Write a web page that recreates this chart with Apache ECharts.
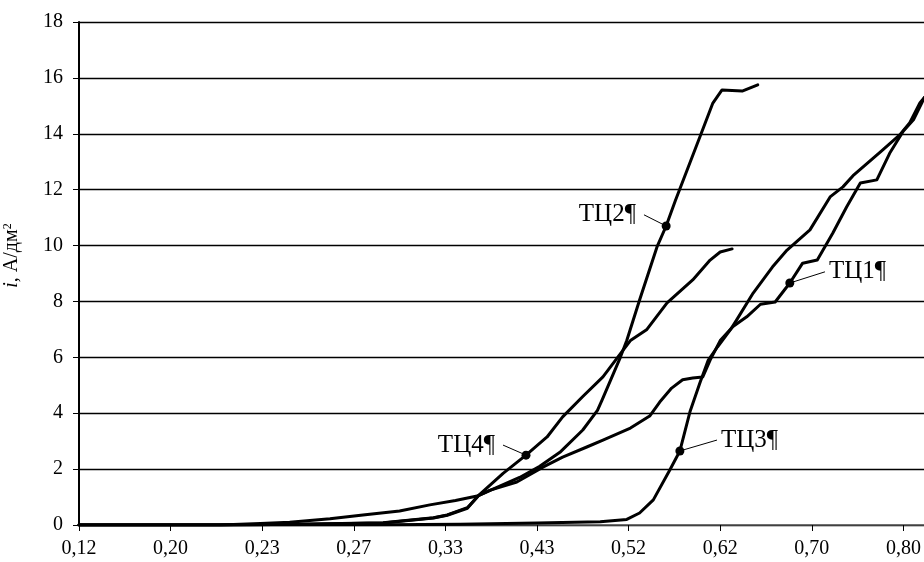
<!DOCTYPE html>
<html>
<head>
<meta charset="utf-8">
<script src="https://cdn.jsdelivr.net/npm/echarts@6/dist/echarts.min.js"></script>
<style>html,body{margin:0;padding:0;background:#fff;}#c{width:924px;height:562px;}</style>
</head>
<body>
<div id="c"></div>
<script>
// x positions are expressed in tick-index units of the (evenly spaced) category ticks below
const xTickLabels = ['0,12','0,20','0,23','0,27','0,33','0,43','0,52','0,62','0,70','0,80'];
const yTicks = [0,2,4,6,8,10,12,14,16,18];

const tc1 = [[0,0],[1.54,0],[2.41,0.03],[3.32,0.07],[3.87,0.25],[4.02,0.35],[4.24,0.6],[4.36,1.05],[4.49,1.25],[4.78,1.54],[5.07,2.08],[5.28,2.43],[5.55,2.8],[5.72,3.04],[6.02,3.47],[6.23,3.9],[6.34,4.4],[6.47,4.9],[6.59,5.2],[6.70,5.26],[6.81,5.3],[6.89,5.9],[7.00,6.6],[7.14,7.1],[7.29,7.45],[7.44,7.9],[7.60,7.98],[7.76,8.66],[7.90,9.37],[8.06,9.48],[8.23,10.45],[8.38,11.38],[8.53,12.24],[8.71,12.35],[8.85,13.3],[9.00,14.1],[9.11,14.5],[9.20,15.1],[9.23,15.3]];
const tc2 = [[0,0],[1.54,0],[2.41,0.03],[3.32,0.08],[3.87,0.26],[4.02,0.36],[4.24,0.62],[4.36,1.05],[4.60,1.4],[4.81,1.7],[5.03,2.1],[5.25,2.6],[5.50,3.4],[5.66,4.1],[5.71,4.47],[5.91,6.0],[5.98,6.6],[6.12,8.05],[6.31,9.95],[6.41,10.7],[6.51,11.6],[6.78,13.9],[6.92,15.1],[7.02,15.57],[7.24,15.53],[7.41,15.75]];
const tc3 = [[0,0],[3.32,0.01],[4.16,0.03],[5.00,0.07],[5.69,0.12],[5.98,0.2],[6.12,0.43],[6.27,0.9],[6.45,1.97],[6.56,2.65],[6.67,4.05],[6.78,5.1],[6.87,5.9],[6.97,6.37],[7.11,6.98],[7.18,7.34],[7.36,8.3],[7.57,9.23],[7.73,9.84],[7.98,10.56],[8.20,11.74],[8.34,12.1],[8.45,12.5],[8.75,13.35],[8.96,13.96],[9.07,14.4],[9.18,15.1],[9.23,15.3]];
const tc4 = [[0,0],[1.54,0],[1.98,0.05],[2.30,0.1],[2.74,0.22],[3.10,0.36],[3.50,0.5],[3.83,0.72],[4.11,0.88],[4.36,1.05],[4.63,1.85],[4.88,2.5],[5.11,3.15],[5.28,3.87],[5.50,4.6],[5.72,5.3],[5.94,6.26],[6.02,6.6],[6.20,7.0],[6.42,7.95],[6.70,8.77],[6.89,9.48],[7.00,9.77],[7.13,9.88]];

// annotation: [name, marker point, leader-line start, label side]
const notes = [
  ['ТЦ1¶', [7.76,8.66], [8.144,9.06], 'right'],
  ['ТЦ2¶', [6.41,10.7], [6.168,11.1], 'left'],
  ['ТЦ3¶', [6.56,2.65], [6.965,3.04], 'right'],
  ['ТЦ4¶', [4.88,2.5], [4.629,2.86], 'left']
];
const seriesData = [tc1, tc2, tc3, tc4];

const FONT = '"Liberation Serif", "DejaVu Serif", serif';

const chart = echarts.init(document.getElementById('c'), null, {renderer: 'canvas'});

const series = seriesData.map((d, k) => {
  const n = notes[k];
  return {
    type: 'line',
    name: n[0],
    data: d,
    showSymbol: false,
    symbol: 'none',
    silent: true,
    z: 3,
    lineStyle: {color: '#000', width: 3, join: 'round', cap: 'round'},
    markPoint: {
      silent: true,
      animation: false,
      data: [
        {coord: n[1], symbol: 'circle', symbolSize: 9, itemStyle: {color: '#000'}, label: {show: false}},
        {coord: n[2], symbol: 'circle', symbolSize: 0, itemStyle: {color: 'transparent'},
         label: {show: true, position: n[3], distance: n[3] === 'left' ? 8 : 4, formatter: n[0],
                 fontFamily: FONT, fontSize: 25, color: '#000'}}
      ]
    },
    markLine: {
      silent: true,
      animation: false,
      symbol: ['none', 'none'],
      label: {show: false},
      lineStyle: {color: '#000', width: 1, type: 'solid'},
      data: [[{coord: n[2]}, {coord: n[1]}]]
    }
  };
});

chart.setOption({
  animation: false,
  backgroundColor: '#fff',
  grid: {left: 79, right: 0, top: 22, bottom: 37, containLabel: false, outerBoundsMode: 'none'},
  xAxis: {
    type: 'value',
    min: 0,
    max: 9.225,
    interval: 1,
    axisLine: {show: true, onZero: true, lineStyle: {color: '#555', width: 1.5}},
    axisTick: {show: true, length: 6, customValues: [0,1,2,3,4,5,6,7,8,9], lineStyle: {color: '#000', width: 1}},
    axisLabel: {
      customValues: [0,1,2,3,4,5,6,7,8,9],
      formatter: v => { const r = Math.round(v); return Math.abs(r - v) < 1e-6 && xTickLabels[r] !== undefined ? xTickLabels[r] : ''; },
      fontFamily: FONT, fontSize: 20, color: '#000', margin: 14
    },
    splitLine: {show: false}
  },
  yAxis: {
    type: 'value',
    min: yTicks[0],
    max: yTicks[yTicks.length - 1],
    interval: 2,
    name: '{it|i}, А/дм{sup|2}',
    nameLocation: 'middle',
    nameGap: 57,
    nameRotate: 90,
    nameTextStyle: {
      fontFamily: FONT, fontSize: 20, color: '#000',
      padding: [0, 0, 0, 36],
      rich: {
        it: {fontFamily: FONT, fontSize: 20, fontStyle: 'italic', color: '#000'},
        sup: {fontFamily: FONT, fontSize: 12, color: '#000', verticalAlign: 'top', padding: [0, 0, 8, 0]}
      }
    },
    axisLine: {show: true, lineStyle: {color: '#000', width: 2}},
    axisTick: {show: true, length: 6, lineStyle: {color: '#000', width: 1}},
    axisLabel: {fontFamily: FONT, fontSize: 20, color: '#000', margin: 16},
    splitLine: {show: true, lineStyle: {color: '#000', width: 1.3}}
  },
  series: series
});
</script>
</body>
</html>
